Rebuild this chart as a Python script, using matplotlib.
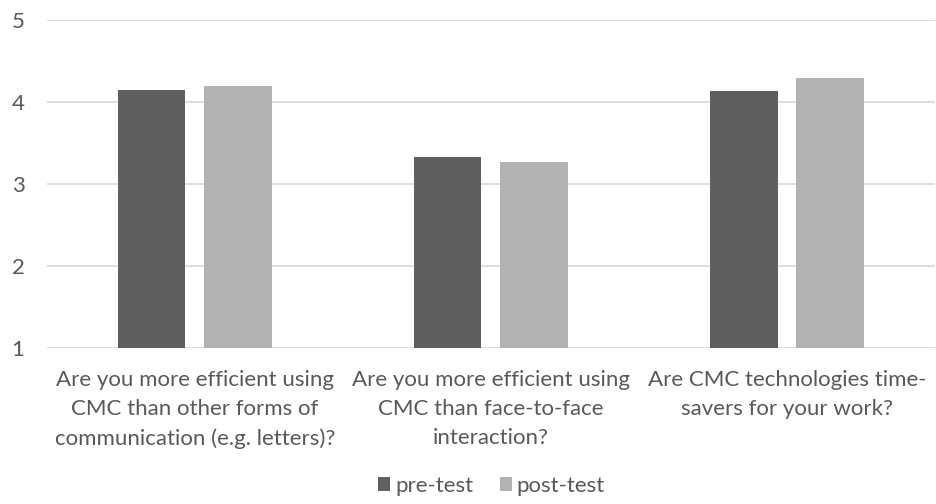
import matplotlib.pyplot as plt
import numpy as np

categories = [
    "Are you more efficient using\nCMC than other forms of\ncommunication (e.g. letters)?",
    "Are you more efficient using\nCMC than face-to-face\ninteraction?",
    "Are CMC technologies time-\nsavers for your work?",
]
pre_test = [4.14, 3.33, 4.13]
post_test = [4.19, 3.26, 4.29]
y_ticks = [1, 2, 3, 4, 5]

text_color = "#595959"
plt.rcParams["font.family"] = ["Lato", "DejaVu Sans"]

fig = plt.figure(figsize=(9.36, 5.04), dpi=100)
ax = fig.add_axes([0.05, 0.3095, 0.949, 0.6518])

x = np.arange(len(categories))
w = 0.227
gap = 0.064
ax.bar(x - (w + gap) / 2, np.array(pre_test) - 1, w, bottom=1, color="#5f5f5f", label="pre-test", zorder=3)
ax.bar(x + (w + gap) / 2, np.array(post_test) - 1, w, bottom=1, color="#b2b2b2", label="post-test", zorder=3)

ax.set_xlim(-0.5, 2.5)
ax.set_ylim(1, 5)
ax.set_yticks(y_ticks)
ax.grid(axis="y", color="#d9d9d9", linewidth=1.2, zorder=0)
for s in ax.spines.values():
    s.set_visible(False)
ax.tick_params(axis="both", length=0, colors=text_color, labelsize=16)
ax.tick_params(axis="y", pad=16)
ax.tick_params(axis="x", pad=16)
ax.set_xticks(x)
ax.set_xticklabels(categories, linespacing=1.55)

fig.legend(loc="center", bbox_to_anchor=(0.525, 0.036), ncol=2, frameon=False,
           fontsize=16, labelcolor=text_color, handlelength=0.55, handleheight=0.55,
           handletextpad=0.2, columnspacing=1.2)

fig.savefig("out.png", dpi=100)
